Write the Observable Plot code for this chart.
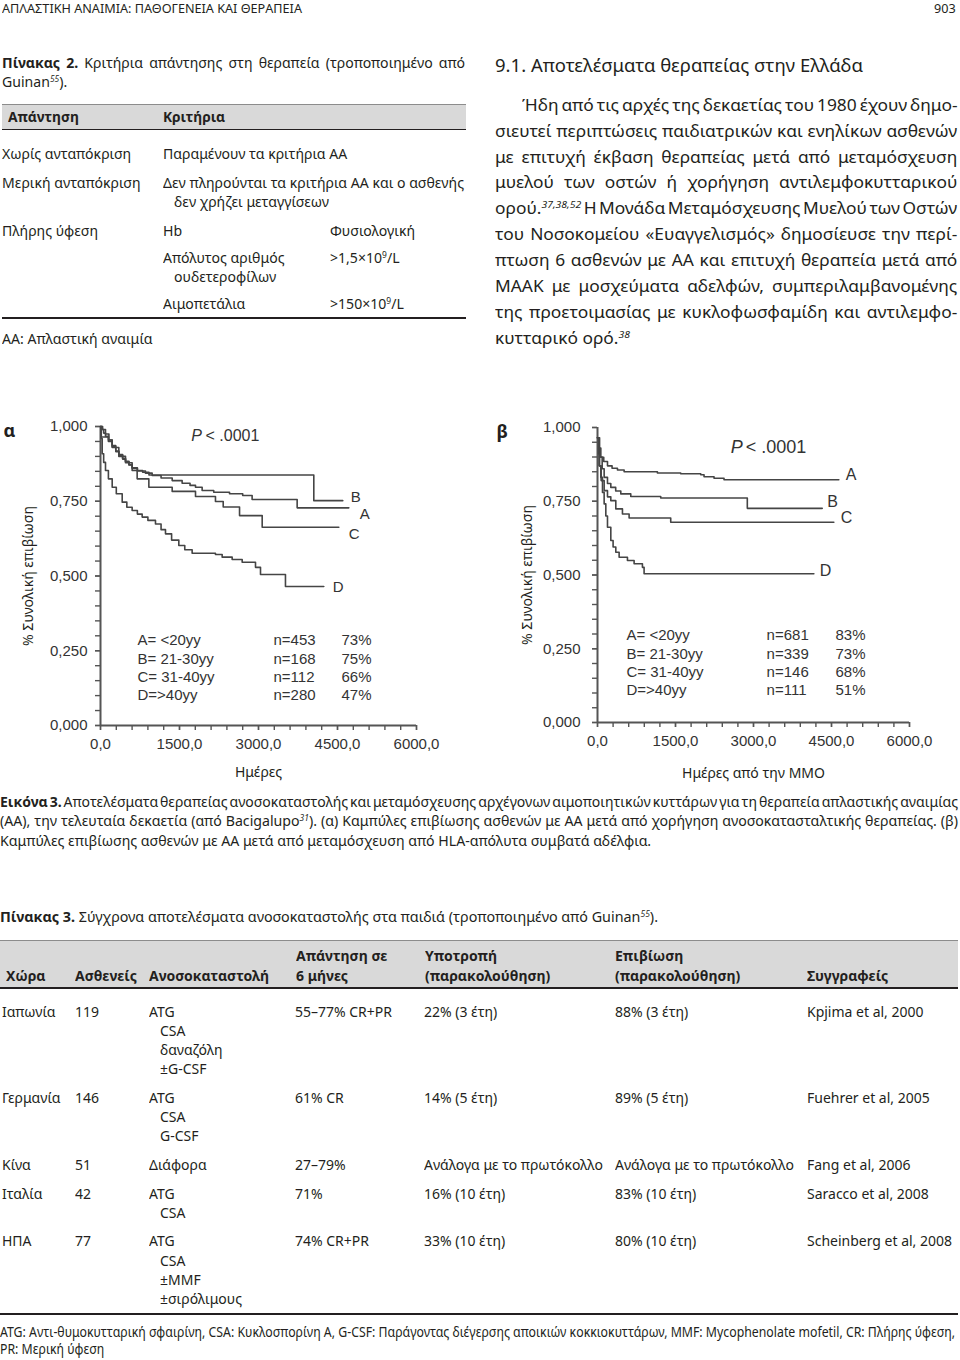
<!DOCTYPE html>
<html>
<head>
<meta charset="utf-8">
<script src="https://cdn.jsdelivr.net/npm/d3@7"></script>
<script src="https://cdn.jsdelivr.net/npm/@observablehq/plot@0.6"></script>
<style>
html,body{margin:0;padding:0;background:#fff;}
#page{position:relative;width:960px;height:1360px;overflow:hidden;font-family:"Noto Sans","Open Sans",sans-serif;color:#231f20;}
.t{position:absolute;white-space:nowrap;line-height:1;transform-origin:0 0;}
.t sup{font-size:0.6em;line-height:0;vertical-align:0.6em;font-style:italic;}
.t sup.n{font-style:normal;}
.box{position:absolute;}
.chart{position:absolute;width:480px;height:390px;}
</style>
</head>
<body>
<div id="page"></div>
<script>
// ---------- Figure 3 data ----------
const groups = ["A", "B", "C", "D"];
const ageLabels = ["A= <20yy", "B= 21-30yy", "C= 31-40yy", "D=>40yy"];
const alphaN = [453, 168, 112, 280];
const alphaPct = [73, 75, 66, 47];
const betaN = [681, 339, 146, 111];
const betaPct = [83, 73, 68, 51];
const xTickDays = [0, 1500, 3000, 4500, 6000];
const yTickSurv = [0, 0.25, 0.5, 0.75, 1];

// (α) immunosuppression: [day, survival]
const alphaA = [[0,1],[30,0.99],[60,0.978],[95,0.967],[150,0.95],[222,0.932],[290,0.916],[348,0.904],[420,0.891],[475,0.882],[540,0.871],[601,0.86],[700,0.851],[854,0.844],[981,0.836],[1150,0.828],[1361,0.819],[1550,0.81],[1700,0.803],[1804,0.797],[1930,0.786],[2150,0.78],[2450,0.775],[2700,0.769],[2879,0.756],[3734,0.728],[4715,0.728]];
const alphaB = [[0,1],[40,0.99],[95,0.975],[160,0.955],[222,0.936],[290,0.918],[348,0.906],[420,0.893],[475,0.884],[540,0.872],[601,0.862],[700,0.853],[800,0.847],[920,0.838],[4050,0.752],[4600,0.752]];
const alphaC = [[0,1],[15,0.965],[150,0.955],[222,0.93],[348,0.9],[475,0.879],[601,0.853],[696,0.825],[918,0.797],[1361,0.783],[1804,0.766],[2183,0.749],[2330,0.731],[2640,0.702],[3070,0.663],[4525,0.663]];
const alphaD = [[0,1],[10,0.96],[32,0.909],[60,0.88],[95,0.853],[150,0.825],[222,0.797],[300,0.775],[412,0.747],[500,0.73],[601,0.719],[700,0.707],[791,0.697],[900,0.686],[1044,0.674],[1150,0.655],[1234,0.641],[1350,0.62],[1487,0.602],[1600,0.588],[1740,0.576],[2183,0.572],[2310,0.563],[2500,0.555],[2690,0.546],[2943,0.529],[3038,0.505],[3512,0.465],[4240,0.465]];

// (β) transplantation from HLA-identical sibling
const betaA = [[0,0.965],[30,0.93],[64,0.899],[120,0.885],[192,0.87],[280,0.862],[384,0.856],[512,0.85],[1152,0.846],[1600,0.843],[1985,0.84],[2049,0.833],[2241,0.828],[2433,0.823],[4641,0.823]];
const betaB = [[0,0.965],[40,0.9],[90,0.86],[128,0.831],[192,0.81],[256,0.797],[350,0.785],[448,0.775],[640,0.766],[1216,0.761],[2881,0.726],[4322,0.726]];
const betaC = [[0,0.965],[30,0.87],[70,0.82],[128,0.786],[192,0.765],[256,0.752],[352,0.724],[480,0.707],[608,0.693],[1408,0.679],[4545,0.679]];
const betaD = [[0,0.965],[20,0.91],[40,0.87],[64,0.831],[96,0.78],[128,0.741],[160,0.7],[192,0.662],[256,0.617],[300,0.595],[352,0.577],[416,0.56],[576,0.549],[704,0.538],[864,0.526],[896,0.504],[4161,0.504]];

// ---------- Table 2 text ----------
const t2Responses = ["Χωρίς ανταπόκριση", "Μερική ανταπόκριση", "Πλήρης ύφεση"];
const t2Criteria = ["Παραμένουν τα κριτήρια ΑΑ", "Δεν πληρούνται τα κριτήρια ΑΑ και ο ασθενής", "δεν χρήζει μεταγγίσεων"];
const t2Params = ["Hb", "Απόλυτος αριθμός", "ουδετεροφίλων", "Αιμοπετάλια"];
const t2Values = ["Φυσιολογική", ">1,5×10<sup class='n'>9</sup>/L", ">150×10<sup class='n'>9</sup>/L"];

// ---------- Section 9.1 text ----------
const paraLines = [
  "Ήδη από τις αρχές της δεκαετίας του 1980 έχουν δημο-",
  "σιευτεί περιπτώσεις παιδιατρικών και ενηλίκων ασθενών",
  "με επιτυχή έκβαση θεραπείας μετά από μεταμόσχευση",
  "μυελού των οστών ή χορήγηση αντιλεμφοκυτταρικού",
  "ορού.<sup>37,38,52</sup> Η Μονάδα Μεταμόσχευσης Μυελού των Οστών",
  "του Νοσοκομείου «Ευαγγελισμός» δημοσίευσε την περί-",
  "πτωση 6 ασθενών με ΑΑ και επιτυχή θεραπεία μετά από",
  "ΜΑΑΚ με μοσχεύματα αδελφών, συμπεριλαμβανομένης",
  "της προετοιμασίας με κυκλοφωσφαμίδη και αντιλεμφο-",
  "κυτταρικό ορό.<sup>38</sup>"
];

// ---------- Caption ----------
const captionLines = [
  "<b>Εικόνα 3.</b> Αποτελέσματα θεραπείας ανοσοκαταστολής και μεταμόσχευσης αρχέγονων αιμοποιητικών κυττάρων για τη θεραπεία απλαστικής αναιμίας",
  "(ΑΑ), την τελευταία δεκαετία (από Bacigalupo<sup>31</sup>). (α) Καμπύλες επιβίωσης ασθενών με ΑΑ μετά από χορήγηση ανοσοκατασταλτικής θεραπείας. (β)",
  "Καμπύλες επιβίωσης ασθενών με ΑΑ μετά από μεταμόσχευση από HLA-απόλυτα συμβατά αδέλφια."
];

// ---------- Table 3 ----------
const t3Head1 = ["", "", "", "Απάντηση σε", "Υποτροπή", "Επιβίωση", ""];
const t3Head2 = ["Χώρα", "Ασθενείς", "Ανοσοκαταστολή", "6 μήνες", "(παρακολούθηση)", "(παρακολούθηση)", "Συγγραφείς"];
const t3Countries = ["Ιαπωνία", "Γερμανία", "Κίνα", "Ιταλία", "ΗΠΑ"];
const t3Patients = [119, 146, 51, 42, 77];
const t3Regimens = [["ATG", "CSA", "δαναζόλη", "±G-CSF"], ["ATG", "CSA", "G-CSF"], ["Διάφορα"], ["ATG", "CSA"], ["ATG", "CSA", "±MMF", "±σιρόλιμους"]];
const t3Response = ["55–77% CR+PR", "61% CR", "27–79%", "71%", "74% CR+PR"];
const t3Relapse = ["22% (3 έτη)", "14% (5 έτη)", "Ανάλογα με το πρωτόκολλο", "16% (10 έτη)", "33% (10 έτη)"];
const t3Survival = ["88% (3 έτη)", "89% (5 έτη)", "Ανάλογα με το πρωτόκολλο", "83% (10 έτη)", "80% (10 έτη)"];
const t3Authors = ["Kpjima et al, 2000", "Fuehrer et al, 2005", "Fang et al, 2006", "Saracco et al, 2008", "Scheinberg et al, 2008"];
const footLines = [
  "ATG: Αντι-θυμοκυτταρική σφαιρίνη, CSA: Κυκλοσπορίνη Α, G-CSF: Παράγοντας διέγερσης αποικιών κοκκιοκυττάρων, MMF: Mycophenolate mofetil, CR: Πλήρης ύφεση,",
  "PR: Μερική ύφεση"
];

// ---------- layout helpers ----------
const page = document.getElementById("page");
const NS = "'Noto Sans','Open Sans',sans-serif";
const items = [];
function T(x, base, html, o = {}) {
  const size = o.size || 14;
  const el = document.createElement("div");
  el.className = "t";
  el.innerHTML = html;
  el.style.left = x + "px";
  el.style.top = (base - 0.888 * size) + "px";
  el.style.fontSize = size + "px";
  if (o.bold) el.style.fontWeight = "700";
  page.appendChild(el);
  items.push({el, x, size, w: o.w, justify: o.justify, block: o.block, ref: o.ref, anchor: o.anchor});
  return el;
}
function box(x, y, w, h, color) {
  const d = document.createElement("div");
  d.className = "box";
  Object.assign(d.style, {left: x + "px", top: y + "px", width: w + "px", height: h + "px", background: color});
  page.appendChild(d);
}
function fit() {
  const blocks = {};
  for (const it of items) { it.el.style.transform = ""; it.el.style.wordSpacing = ""; }
  for (const it of items) if (it.ref) blocks[it.block] = it.w / it.el.getBoundingClientRect().width;
  for (const it of items) {
    const el = it.el;
    let W = el.getBoundingClientRect().width;
    let f = blocks[it.block] ?? 1;
    if (it.justify) {
      const n = (el.textContent.match(/ /g) || []).length;
      if (n) {
        let ws = (it.w / f - W) / n;
        ws = Math.max(ws, -0.12 * it.size);
        el.style.wordSpacing = ws + "px";
        W = el.getBoundingClientRect().width;
      }
      f = it.w / W;
    } else if (it.w) {
      f = it.w / W;
    }
    el.style.transform = `scaleX(${f})`;
    if (it.anchor === "end") el.style.left = (it.x - W * f) + "px";
  }
}

// ---------- running head ----------
T(2, 13.5, "ΑΠΛΑΣΤΙΚΗ ΑΝΑΙΜΙΑ: ΠΑΘΟΓΕΝΕΙΑ ΚΑΙ ΘΕΡΑΠΕΙΑ", {size: 12, w: 300, block: "hd", ref: true});
T(956, 13.5, "903", {size: 12, block: "hd", anchor: "end"});

// ---------- Table 2 ----------
T(2, 68.3, "<b>Πίνακας 2.</b> Κριτήρια απάντησης στη θεραπεία (τροποποιημένο από", {size: 14.5, w: 463, justify: true, block: "t2"});
T(2, 87.3, "Guinan<sup>55</sup>).", {size: 14.5, block: "t2"});
box(2, 104, 464, 25, "#d9d9d9");
box(2, 104, 464, 1, "#8c8c8c");
box(2, 128.5, 464, 1.8, "#231f20");
T(8, 121.7, "Απάντηση", {size: 14.5, bold: true, w: 71});
T(163, 121.7, "Κριτήρια", {size: 14.5, bold: true, w: 62});
T(2, 159.3, t2Responses[0], {size: 14.5, block: "t2"});
T(163, 159.3, t2Criteria[0], {size: 14.5, block: "t2"});
T(2, 188.3, t2Responses[1], {size: 14.5, block: "t2"});
T(163, 188.3, t2Criteria[1], {size: 14.5, w: 301, block: "t2", ref: true});
T(174, 206.7, t2Criteria[2], {size: 14.5, block: "t2"});
T(2, 235.7, t2Responses[2], {size: 14.5, block: "t2"});
T(163, 235.7, t2Params[0], {size: 14.5, block: "t2"});
T(330, 235.7, t2Values[0], {size: 14.5, block: "t2"});
T(163, 263.3, t2Params[1], {size: 14.5, block: "t2"});
T(330, 263.3, t2Values[1], {size: 14.5, block: "t2"});
T(174, 281.7, t2Params[2], {size: 14.5, block: "t2"});
T(163, 309, t2Params[3], {size: 14.5, block: "t2"});
T(330, 309, t2Values[2], {size: 14.5, block: "t2"});
box(2, 317, 464, 1.6, "#231f20");
T(2, 344, "ΑΑ: Απλαστική αναιμία", {size: 14.5, block: "t2"});

// ---------- Section 9.1 ----------
T(495, 72.3, "9.1. Αποτελέσματα θεραπείας στην Ελλάδα", {size: 18, w: 368});
const paraBase = [111.7, 137.7, 163.3, 189, 215, 241, 266.7, 292.7, 318.3, 344.3];
paraLines.forEach((s, i) => {
  const last = i === paraLines.length - 1;
  const x = i === 0 ? 521.7 : 495;
  T(x, paraBase[i], s, last ? {size: 15.5, w: 135, block: "p", ref: true} : {size: 15.5, w: 957.3 - x, justify: true, block: "p"});
});

// ---------- Figure 3 charts ----------
function survivalChart(c) {
  const rows = c.series.flatMap((pts, i) => pts.map(([day, surv]) => ({group: groups[i], day, surv})));
  const ends = c.series.map(pts => pts[pts.length - 1]);
  const ink = "#333333", axisInk = "#555555";
  const arial = "'Liberation Sans', Arial, sans-serif";
  const lab = {fontFamily: arial, fontSize: 15, fill: ink, textAnchor: "start", lineAnchor: "middle"};
  return Plot.plot({
    width: 480, height: 390,
    marginLeft: c.ml, marginRight: c.mr, marginTop: c.mt, marginBottom: c.mb,
    x: {domain: [0, 6000], label: null},
    y: {domain: [0, 1], label: null},
    style: {fontFamily: arial, fontSize: "15px", color: ink, background: "transparent", overflow: "visible"},
    marks: [
      Plot.axisX({ticks: d3.range(0, 6001, 300), tickSize: 5, tickFormat: () => "", stroke: axisInk, strokeWidth: 1.4, label: null}),
      Plot.axisX({ticks: xTickDays, tickSize: 5, tickPadding: c.xpad, tickFormat: d => d.toFixed(1).replace(".", ","), stroke: axisInk, strokeWidth: 1.4, label: null}),
      Plot.axisY({ticks: d3.range(0, 21).map(i => i / 20), tickSize: 5, tickFormat: () => "", stroke: axisInk, strokeWidth: 1.4, label: null}),
      Plot.axisY({ticks: yTickSurv, tickSize: 5, tickPadding: c.ypad, tickFormat: d => d.toFixed(3).replace(".", ","), stroke: axisInk, strokeWidth: 1.4, label: null}),
      Plot.ruleX([0], {stroke: axisInk, strokeWidth: 2}),
      Plot.ruleY([0], {stroke: axisInk, strokeWidth: 2}),
      Plot.line(rows, {x: "day", y: "surv", z: "group", curve: "step-after", stroke: "#454545", strokeWidth: 1.6}),
      ...groups.map((g, i) => Plot.text([g], {x: () => ends[i][0], y: () => ends[i][1], text: d => d, dx: c.endDx[i], dy: c.endDy[i], ...lab, fontSize: c.endSize})),
      Plot.text(ageLabels, {x: () => c.legX[0], y: (d, i) => c.legY - i * c.legStep, text: d => d, ...lab}),
      Plot.text(c.n, {x: () => c.legX[1], y: (d, i) => c.legY - i * c.legStep, text: d => `n=${d}`, ...lab}),
      Plot.text(c.pct, {x: () => c.legX[2], y: (d, i) => c.legY - i * c.legStep, text: d => `${d}%`, ...lab}),
      Plot.text(["P"], {x: () => c.pX[0], y: () => c.pY, text: d => d, ...lab, fontStyle: "italic", fontSize: c.pSize}),
      Plot.text(["< .0001"], {x: () => c.pX[1], y: () => c.pY, text: d => d, ...lab, fontSize: c.pSize}),
      Plot.text([c.xLabel], {frameAnchor: "bottom", dy: c.xLabDy, text: d => d, fontFamily: NS, fontSize: 14, fill: "#231f20", lineAnchor: "middle"}),
      Plot.text(["% Συνολική επιβίωση"], {frameAnchor: "left", dx: c.yLabDx, rotate: -90, text: d => d, textAnchor: "middle", lineAnchor: "middle", fontFamily: NS, fontSize: 14, fill: "#231f20"}),
      Plot.text([c.tag], {frameAnchor: "top-left", dx: c.tagDx, dy: 5, text: d => d, textAnchor: "start", lineAnchor: "middle", fontFamily: NS, fontWeight: "bold", fontSize: 18, fill: "#231f20"})
    ]
  });
}
function addChart(left, cfg) {
  const w = document.createElement("div");
  w.className = "chart";
  w.style.left = left + "px";
  w.style.top = "400px";
  w.appendChild(survivalChart(cfg));
  page.appendChild(w);
}
addChart(0, {
  series: [alphaA, alphaB, alphaC, alphaD], n: alphaN, pct: alphaPct, tag: "α", xLabel: "Ημέρες",
  ml: 100, mr: 64, mt: 26, mb: 65, xpad: 7.5, ypad: 8,
  endDx: [11, 8, 10, 9], endDy: [6, -3, 7, 1], endSize: 15,
  legX: [702, 3284, 4575], legY: 0.284, legStep: 0.0613,
  pX: [1722, 1994], pY: 0.967, pSize: 16,
  xLabDy: 47, yLabDx: -72, tagDx: -97
});
addChart(480, {
  series: [betaA, betaB, betaC, betaD], n: betaN, pct: betaPct, tag: "β", xLabel: "Ημέρες από την ΜΜΟ",
  ml: 117, mr: 51, mt: 27, mb: 68, xpad: 8, ypad: 12,
  endDx: [7, 5, 7, 6], endDy: [-5, -6, -4, -3], endSize: 16,
  legX: [557, 3252, 4577], legY: 0.2953, legStep: 0.0621,
  pX: [2561, 2849], pY: 0.932, pSize: 18,
  xLabDy: 50.7, yLabDx: -70, tagDx: -101
});

// ---------- caption ----------
const capBase = [807.5, 826.5, 846.5];
captionLines.forEach((s, i) => {
  if (i < 2) T(0, capBase[i], s, {size: 14, w: 958, justify: true, block: "cap"});
  else T(0, capBase[i], s, {size: 14, w: 651, block: "cap", ref: true});
});

// ---------- Table 3 ----------
T(0, 922, "<b>Πίνακας 3.</b> Σύγχρονα αποτελέσματα ανοσοκαταστολής στα παιδιά (τροποποιημένο από Guinan<sup>55</sup>).", {size: 14, w: 658});
box(0, 940, 958, 48, "#d9d9d9");
box(0, 940, 958, 1, "#8c8c8c");
box(0, 987, 958, 2, "#231f20");
const headX = [6, 75, 149, 296, 425, 615, 807];
t3Head1.forEach((s, j) => { if (s) T(headX[j], 961, s, {size: 14.5, bold: true, block: "t3h"}); });
t3Head2.forEach((s, j) => T(headX[j], 981, s, j === 2 ? {size: 14.5, bold: true, w: 120, block: "t3h", ref: true} : {size: 14.5, bold: true, block: "t3h"}));
const colX = [2, 75, 149, 295, 424, 615, 807];
const subX = 160, lineStep = 19.2, rowGap = 9.4;
let rowBase = 1016.7;
t3Countries.forEach((country, i) => {
  const o = {size: 14.5, block: "t3"};
  T(colX[0], rowBase, country, o);
  T(colX[1], rowBase, String(t3Patients[i]), o);
  t3Regimens[i].forEach((r, k) => T(k === 0 ? colX[2] : subX, rowBase + k * lineStep, r, o));
  T(colX[3], rowBase, t3Response[i], o);
  T(colX[4], rowBase, t3Relapse[i], o);
  T(colX[5], rowBase, t3Survival[i], o);
  T(colX[6], rowBase, t3Authors[i], i === 4 ? {size: 14.5, w: 145, block: "t3", ref: true} : o);
  rowBase += t3Regimens[i].length * lineStep + rowGap;
});
box(0, 1313, 958, 2, "#231f20");
T(0, 1337, footLines[0], {size: 14, w: 955, block: "fn", ref: true});
T(0, 1354, footLines[1], {size: 14, block: "fn"});

fit();
if (document.fonts && document.fonts.ready) document.fonts.ready.then(fit);
</script>
</body>
</html>
